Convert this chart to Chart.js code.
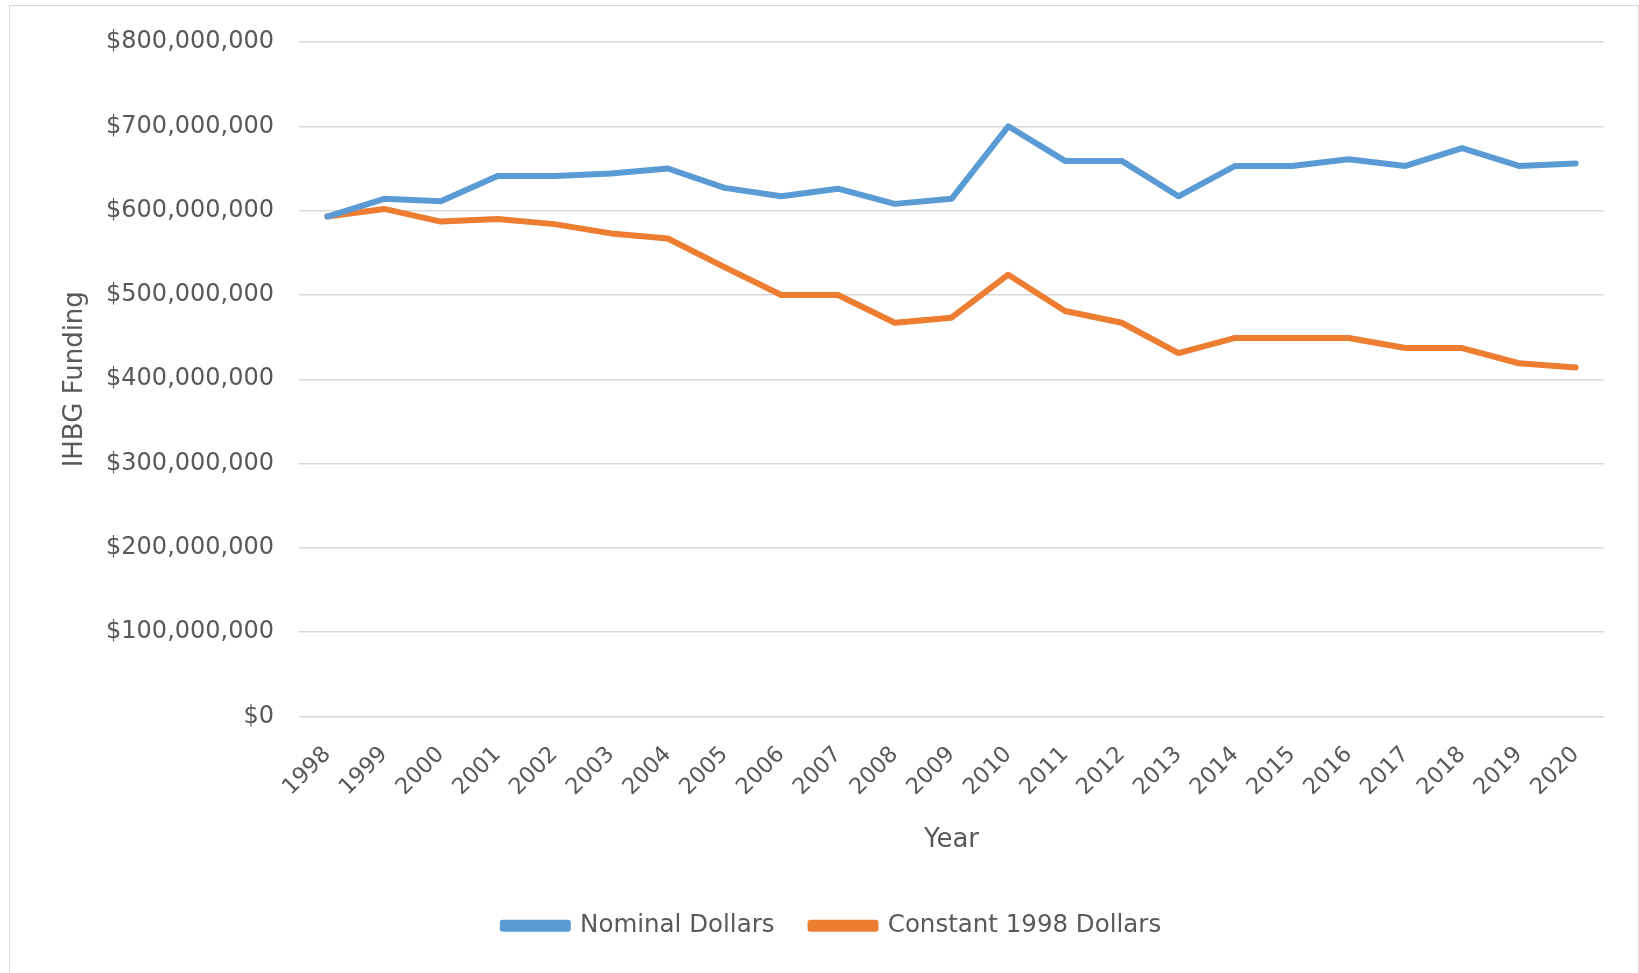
<!DOCTYPE html>
<html>
<head>
<meta charset="utf-8">
<script src="https://cdn.jsdelivr.net/npm/chart.js@4/dist/chart.umd.min.js"></script>
<style>
  html, body { margin: 0; padding: 0; background: #fff; }
  #wrap { position: relative; width: 1639px; height: 973px; }
  #frame { position: absolute; left: 9px; top: 5px; width: 1628px; height: 980px; border: 1px solid #d9d9d9; pointer-events: none; }
</style>
</head>
<body>
<div id="wrap">
  <canvas id="fundingChart" width="1639" height="973"></canvas>
  <div id="frame"></div>
</div>
<script>
/* IHBG funding, 1998-2020 */
const years = ['1998','1999','2000','2001','2002','2003','2004','2005','2006','2007','2008',
               '2009','2010','2011','2012','2013','2014','2015','2016','2017','2018','2019','2020'];
const nominal = [593, 614, 611, 641, 641, 644, 650, 627, 617, 626, 608,
                 614, 700, 659, 659, 617, 653, 653, 661, 653, 674, 653, 656];
const constant1998 = [593, 602, 587, 590, 584, 573, 567, 533, 500, 500, 467,
                      473, 524, 481, 467, 431, 449, 449, 449, 437, 437, 419, 414];
const yTicks = [0, 100, 200, 300, 400, 500, 600, 700, 800]; // millions

const FONT = '"DejaVu Sans", sans-serif';
const TXT = '#595959';
const toDollars = arr => arr.map(v => v * 1e6);

new Chart(document.getElementById('fundingChart').getContext('2d'), {
  type: 'line',
  data: {
    labels: years,
    datasets: [
      {
        label: 'Nominal Dollars',
        data: toDollars(nominal),
        borderColor: '#5b9bd5',
        backgroundColor: '#5b9bd5',
        borderWidth: 6,
        pointRadius: 0,
        tension: 0,
        borderJoinStyle: 'round',
        borderCapStyle: 'round'
      },
      {
        label: 'Constant 1998 Dollars',
        data: toDollars(constant1998),
        borderColor: '#ed7d31',
        backgroundColor: '#ed7d31',
        borderWidth: 6,
        pointRadius: 0,
        tension: 0,
        borderJoinStyle: 'round',
        borderCapStyle: 'round'
      }
    ]
  },
  options: {
    responsive: false,
    animation: false,
    layout: { padding: { left: 60, right: 35, top: 42, bottom: 25 } },
    plugins: {
      tooltip: { enabled: false },
      legend: {
        position: 'bottom',
        labels: {
          boxWidth: 65,
          boxHeight: 6,
          padding: 36,
          color: TXT,
          font: { family: FONT, size: 24.5 }
        }
      }
    },
    scales: {
      x: {
        offset: true,
        grid: { display: false, drawTicks: false },
        border: { display: false },
        ticks: {
          color: TXT,
          font: { family: FONT, size: 22.5 },
          maxRotation: 45,
          minRotation: 45,
          autoSkip: false,
          padding: 25
        },
        title: {
          display: true,
          text: 'Year',
          color: TXT,
          font: { family: FONT, size: 26 },
          padding: { top: 0, bottom: 22 }
        },
        afterFit: s => { s.height = 161; }
      },
      y: {
        min: 0,
        max: 800e6,
        afterBuildTicks: s => { s.ticks = yTicks.map(v => ({ value: v * 1e6 })); },
        grid: { color: '#d9d9d9', lineWidth: 1.5, drawTicks: false },
        border: { display: false },
        ticks: {
          color: TXT,
          font: { family: FONT, size: 24 },
          padding: 25,
          callback: v => '$' + Number(v).toLocaleString('en-US')
        },
        title: {
          display: true,
          text: 'IHBG Funding',
          color: TXT,
          font: { family: FONT, size: 26 },
          padding: 0
        },
        afterFit: s => { s.width = 239; }
      }
    }
  }
});
</script>
</body>
</html>
